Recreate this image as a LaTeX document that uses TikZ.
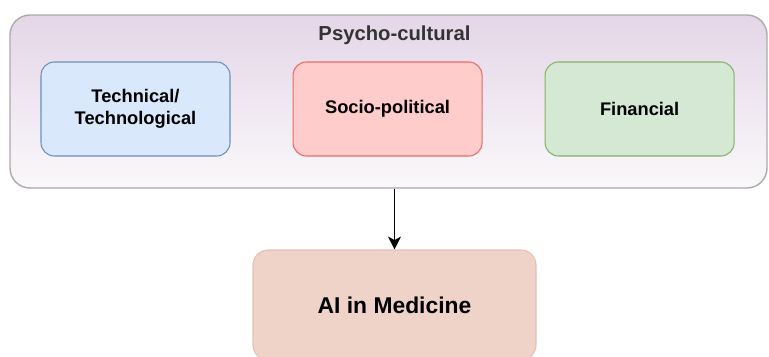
\documentclass[tikz,border=0pt]{standalone}
\usepackage{fontspec}
\setmainfont{Liberation Sans}
\usepackage{tikz}
\usetikzlibrary{positioning, arrows.meta}

\definecolor{techfill}{HTML}{DAE8FC}
\definecolor{techline}{HTML}{6C8EBF}
\definecolor{sociofill}{HTML}{FFCCCC}
\definecolor{socioline}{HTML}{EA6B66}
\definecolor{finfill}{HTML}{D5E8D4}
\definecolor{finline}{HTML}{82B366}
\definecolor{aifill}{HTML}{EFD3C8}
\definecolor{ailine}{HTML}{E3C2B8}
\definecolor{psytop}{HTML}{E4D6E8}
\definecolor{psybottom}{HTML}{FAF8FA}
\definecolor{psyline}{HTML}{ABABAB}

\begin{document}
\begin{tikzpicture}[
    factor/.style={rectangle, rounded corners=0.4cm, line width=0.9pt, minimum width=5.67cm,
        minimum height=2.82cm, align=center, inner sep=2pt, font=\bfseries\fontsize{15.6}{18.5}\selectfont},
    ]
            \clip (0,0) rectangle (23.07,-10.68);
            % outer group
            \node[rectangle, rounded corners=0.6cm, draw=psyline, line width=1.2pt, top color=psytop,
                bottom color=psybottom, minimum width=22.71cm, minimum height=5.19cm](psy) at (11.655,-3.045){};
            \node[text=black!80, font=\bfseries\fontsize{17.3}{20}\selectfont](title) at (11.835,-1.05){Psycho-cultural};

            \node[factor, fill=techfill, draw=techline](tech) at (4.065,-3.27){Technical/\\Technological};
            \node[factor, fill=sociofill, draw=socioline](socio)[right = 1.86cm of tech]{Socio-political};
            \node[factor, fill=finfill, draw=finline](fin)[right = 1.86cm of socio]{Financial};

            \node[rectangle, rounded corners=0.45cm, fill=aifill, draw=ailine, line width=0.9pt, minimum width=8.49cm,
                minimum height=3.3cm, font=\bfseries\fontsize{19.5}{23}\selectfont](ai) at (11.835,-9.15){AI in Medicine};

            \draw[-{Stealth[length=11pt, width=11pt, inset=3pt]}, line width=1.2pt] (psy.south -| ai.north) -- (ai.north);
        \end{tikzpicture}
\end{document}
